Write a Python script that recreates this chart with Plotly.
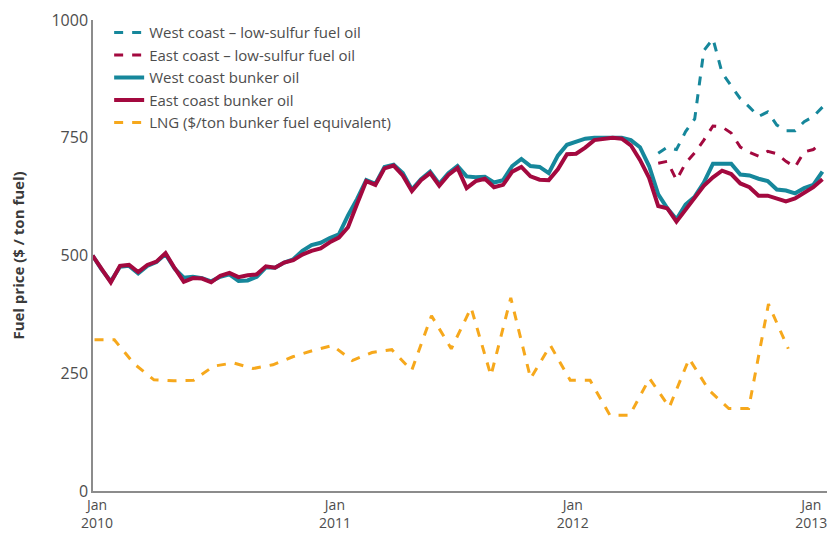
import pandas as pd
import plotly.graph_objects as go

# biweekly bunker-oil prices, $/ton
dates = pd.date_range("2009-12-19", periods=81, freq="14D")

east_bunker = [500, 470, 443, 478, 480, 465, 480, 487, 505, 473,
               444, 452, 451, 443, 457, 463, 454, 458, 460, 477,
               474, 485, 490, 502, 510, 515, 528, 538, 560, 610,
               658, 650, 685, 691, 670, 637, 660, 675, 648, 671,
               686, 643, 658, 663, 645, 650, 678, 688, 668, 661,
               660, 683, 715, 716, 729, 745, 747, 750, 748, 734,
               703, 665, 605, 600, 572, 598, 625, 648, 666, 680,
               673, 653, 645, 627, 627, 622, 615, 621, 632, 645,
               662]

west_bunker = [500, 470, 445, 476, 478, 462, 478, 486, 503, 472,
               453, 455, 452, 445, 455, 460, 446, 447, 455, 475,
               474, 485, 492, 510, 522, 527, 537, 545, 585, 620,
               660, 652, 688, 693, 675, 640, 662, 678, 652, 675,
               690, 668, 666, 667, 655, 660, 690, 705, 690, 688,
               675, 712, 735, 742, 748, 750, 750, 750, 750, 745,
               730, 690, 630, 600, 577, 608, 625, 655, 695, 695,
               695, 672, 670, 663, 658, 640, 638, 632, 643, 650,
               678]

# low-sulfur fuel oil, available from mid 2012
lsfo_dates = dates[62:]
west_lsfo = [717, 730, 725, 763, 790, 935, 960, 888, 860, 833,
             815, 795, 805, 777, 765, 765, 784, 795, 815]
east_lsfo = [696, 700, 660, 696, 718, 745, 775, 773, 760, 730,
             719, 711, 721, 716, 700, 688, 720, 725, 740]

# LNG, roughly monthly, $/ton bunker fuel equivalent
lng_dates = pd.date_range("2009-12-22", periods=36, freq="730h")
lng = [321, 321, 270, 236, 234, 235, 265, 272, 260, 268,
       285, 298, 309, 277, 294, 300, 256, 372, 302, 389,
       245, 410, 239, 309, 235, 235, 161, 161, 239, 178,
       281, 214, 175, 175, 397, 302]

tick_dates = ["2010-01-01", "2011-01-01", "2012-01-01", "2013-01-01"]
tick_text = ["Jan<br>2010", "Jan<br>2011", "Jan<br>2012", "Jan<br>2013"]

TEAL = "#16879b"
RED = "#a3093f"
ORANGE = "#f6a81c"

fig = go.Figure()
fig.add_trace(go.Scatter(x=lsfo_dates, y=west_lsfo, mode="lines",
                         name="West coast \u2013 low-sulfur fuel oil",
                         line=dict(color=TEAL, width=3, dash="dash")))
fig.add_trace(go.Scatter(x=lsfo_dates, y=east_lsfo, mode="lines",
                         name="East coast \u2013 low-sulfur fuel oil",
                         line=dict(color=RED, width=3, dash="dash")))
fig.add_trace(go.Scatter(x=dates, y=west_bunker, mode="lines",
                         name="West coast bunker oil",
                         line=dict(color=TEAL, width=4)))
fig.add_trace(go.Scatter(x=dates, y=east_bunker, mode="lines",
                         name="East coast bunker oil",
                         line=dict(color=RED, width=4)))
fig.add_trace(go.Scatter(x=lng_dates, y=lng, mode="lines",
                         name="LNG ($/ton bunker fuel equivalent)",
                         line=dict(color=ORANGE, width=3, dash="dash")))

# the page body has an 8px margin, so the figure is sized to fit the window
fig.update_layout(
    width=827, height=525,
    margin=dict(l=85, r=8, t=10, b=42),
    paper_bgcolor="white", plot_bgcolor="white",
    font=dict(family="Open Sans", size=15, color="#4d4d4d"),
    showlegend=True,
    legend=dict(x=0.022, y=1.008, xanchor="left", yanchor="top",
                bgcolor="rgba(0,0,0,0)", font=dict(size=15, color="#4d4d4d"),
                itemwidth=30, tracegroupgap=0),
)
fig.update_xaxes(
    type="date", range=["2009-12-19 16:00", "2013-01-19"],
    tickvals=tick_dates, ticktext=tick_text, automargin=False,
    ticklabeloverflow="allow", ticklabelshift=-4,
    showgrid=False, zeroline=False, showline=True,
    linecolor="#8c8c8c", linewidth=1.5, ticks="",
    tickfont=dict(size=14, color="#4d4d4d"),
)
fig.update_yaxes(
    range=[0, 1000], tickvals=[0, 250, 500, 750, 1000], automargin=False,
    showgrid=False, zeroline=False, showline=True,
    linecolor="#8c8c8c", linewidth=1.5, ticks="",
    tickfont=dict(size=16, color="#4d4d4d"),
    title=dict(text="<b>Fuel price ($ / ton fuel)</b>", standoff=24,
               font=dict(size=15, color="#3a3a3a")),
)

fig.write_html("out.html")
